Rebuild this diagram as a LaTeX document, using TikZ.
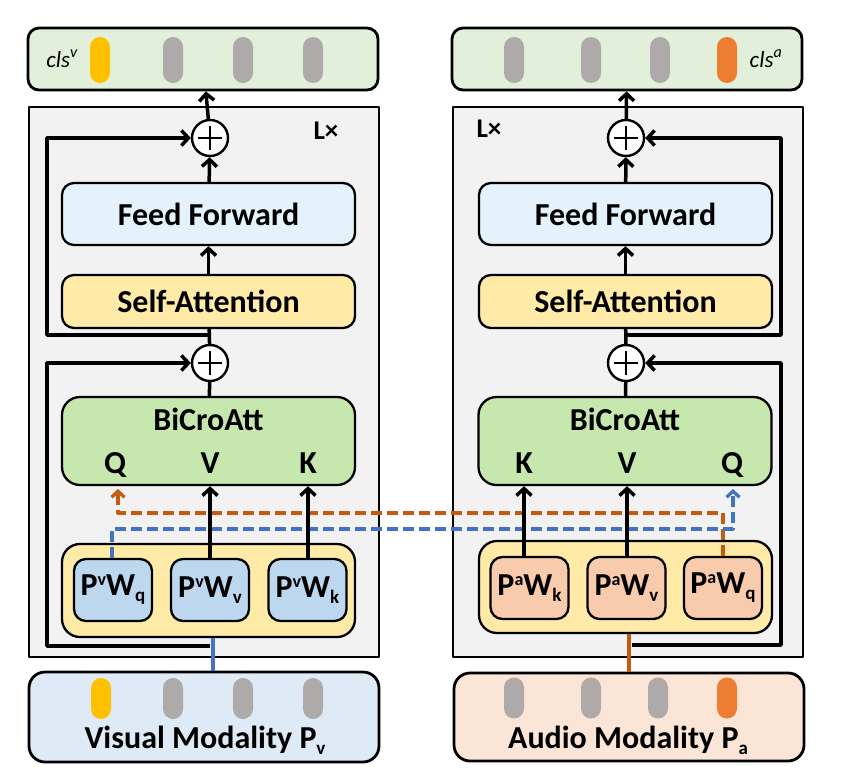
\documentclass[tikz,border=0pt]{standalone}
\usepackage{fontspec}
\setmainfont{Carlito}
\usetikzlibrary{arrows.meta,positioning}

\definecolor{clsgreen}{RGB}{226,239,218}
\definecolor{layergray}{RGB}{242,242,242}
\definecolor{ffblue}{RGB}{227,242,251}
\definecolor{attyellow}{RGB}{255,234,167}
\definecolor{bcagreen}{RGB}{198,231,174}
\definecolor{projblue}{RGB}{189,215,238}
\definecolor{projorange}{RGB}{248,203,173}
\definecolor{visblue}{RGB}{222,235,247}
\definecolor{audorange}{RGB}{251,229,214}
\definecolor{tokyellow}{RGB}{255,192,0}
\definecolor{tokgray}{RGB}{174,170,170}
\definecolor{tokorange}{RGB}{237,125,49}
\definecolor{lineblue}{RGB}{68,114,196}
\definecolor{lineorange}{RGB}{197,90,17}

\newcommand{\supmark}[1]{\raisebox{10pt}{\fontsize{18}{18}\selectfont #1}}
\newcommand{\submark}[1]{\raisebox{-6pt}{\fontsize{19}{19}\selectfont #1}}

\begin{document}
\begin{tikzpicture}[x=1pt, y=-1pt, >={Straight Barb[length=7pt,width=15pt]}, line join=round,
		font=\fontsize{32}{36}\selectfont\bfseries,
		outbox/.style={draw, line width=2.8pt, rounded corners=11pt, minimum width=350pt, inner sep=0pt},
		layerbox/.style={draw, line width=2.8pt, fill=layergray, minimum width=350pt, minimum height=550pt, inner sep=0pt},
		blockbox/.style={draw, line width=2.3pt, rounded corners=12pt, minimum width=293pt, inner sep=0pt},
		projbox/.style={draw, line width=2.3pt, rounded corners=12pt, minimum width=78pt, minimum height=62pt, inner sep=0pt},
		addop/.style={draw, circle, line width=2.4pt, fill=white, minimum size=36pt, inner sep=0pt,
			path picture={\draw[line width=2.8pt] ([xshift=-12pt]path picture bounding box.center) -- ([xshift=12pt]path picture bounding box.center)
				([yshift=-12pt]path picture bounding box.center) -- ([yshift=12pt]path picture bounding box.center);}},
		tok/.style={rounded corners=10pt, minimum width=20pt, inner sep=0pt},
		flow/.style={->, line width=3.5pt},
		rail/.style={line width=3.5pt},
		lxmark/.style={font=\fontsize{27}{30}\selectfont\bfseries, anchor=base, inner sep=0pt},
		querydash/.style={-{Straight Barb[length=6pt,width=13pt]}, line width=3.3pt, dash pattern=on 11pt off 5pt}]
	\useasboundingbox (0,0) rectangle (845,774);
	
	% visual branch
	\node[layerbox] (layv) at (204,382) {};
	\node[lxmark] (lv) at (326,139) {L×};
	\node[outbox, fill=clsgreen, minimum height=62pt] (clsv) at (203,59) {};
	\node[font=\fontsize{23}{25}\selectfont\itshape, anchor=base] (clsvtxt) at (62,67) {cls\textsuperscript{v}};
	\node[tok, fill=tokyellow, minimum height=46pt] (tv0) at (100,60) {};
	\foreach \i/\x in {1/173,2/243,3/313} { \node[tok, fill=tokgray, minimum height=46pt] (tv\i) at (\x,60) {}; }
	
	\node[addop] (addTv) at (210,138) {};
	\node[blockbox, fill=ffblue, minimum height=62pt] (ffv) at (208.5,214) {Feed Forward};
	\node[blockbox, fill=attyellow, minimum height=53pt] (sav) at (208.5,301.5) {Self-Attention};
	\node[addop] (addLv) at (210,363) {};
	\node[blockbox, fill=bcagreen, minimum height=88pt, rounded corners=18pt] (bcav) at (208.5,441) {};
	\node[anchor=base] (bcavtxt) at (208.5,430) {BiCroAtt};
	\node[anchor=base] (qv) at (115,473) {Q};
	\node[anchor=base] (vv) at (210,473) {V};
	\node[anchor=base] (kv) at (308,473) {K};
	\node[blockbox, fill=attyellow, minimum height=93pt, rounded corners=18pt] (projv) at (208.5,590.5) {};
	\node[projbox, fill=projblue] (pvq) at (113,590) {P\supmark{v}W\submark{q}};
	\node[projbox, fill=projblue] (pvv) at (210,590) {P\supmark{v}W\submark{v}};
	\node[projbox, fill=projblue] (pvk) at (307.5,590) {P\supmark{v}W\submark{k}};
	
	\node[outbox, fill=visblue, minimum height=90pt, rounded corners=16pt] (visv) at (204,717) {};
	\node[anchor=base] (visvtxt) at (205,748) {Visual Modality P\submark{v}};
	\node[tok, fill=tokyellow, minimum height=41pt] (bv0) at (101,698.5) {};
	\foreach \i/\x in {1/173,2/243,3/313} { \node[tok, fill=tokgray, minimum height=41pt] (bv\i) at (\x,698.5) {}; }
	
	% audio branch
	\node[layerbox] (laya) at (628,382) {};
	\node[lxmark] (la) at (489,137) {L×};
	\node[outbox, fill=clsgreen, minimum height=62pt] (clsa) at (627,59) {};
	\node[font=\fontsize{23}{25}\selectfont\itshape, anchor=base] (clsatxt) at (766,67) {cls\textsuperscript{a}};
	\foreach \i/\x in {1/514,2/591,3/660} { \node[tok, fill=tokgray, minimum height=46pt] (ta\i) at (\x,60) {}; }
	\node[tok, fill=tokorange, minimum height=46pt] (ta0) at (727,60) {};
	
	\node[addop] (addTa) at (626,138) {};
	\node[blockbox, fill=ffblue, minimum height=62pt] (ffa) at (625.5,214) {Feed Forward};
	\node[blockbox, fill=attyellow, minimum height=53pt] (saa) at (625.5,301.5) {Self-Attention};
	\node[addop] (addLa) at (626,363) {};
	\node[blockbox, fill=bcagreen, minimum height=88pt, rounded corners=18pt] (bcaa) at (625,441) {};
	\node[anchor=base] (bcaatxt) at (625,430) {BiCroAtt};
	\node[anchor=base] (ka) at (524,473) {K};
	\node[anchor=base] (va) at (627,473) {V};
	\node[anchor=base] (qa) at (732,473) {Q};
	\node[blockbox, fill=attyellow, minimum height=92pt, rounded corners=18pt] (proja) at (625.5,587) {};
	\node[projbox, fill=projorange] (pak) at (529.5,588) {P\supmark{a}W\submark{k}};
	\node[projbox, fill=projorange] (pav) at (626.5,588) {P\supmark{a}W\submark{v}};
	\node[projbox, fill=projorange] (paq) at (723,588) {P\supmark{a}W\submark{q}};
	
	\node[outbox, fill=audorange, minimum height=88pt, rounded corners=16pt] (auda) at (629,717) {};
	\node[anchor=base] (audatxt) at (628,748) {Audio Modality P\submark{a}};
	\foreach \i/\x in {1/514,2/591,3/658} { \node[tok, fill=tokgray, minimum height=41pt] (ba\i) at (\x,698) {}; }
	\node[tok, fill=tokorange, minimum height=41pt] (ba0) at (727,698) {};
	
	% residual rails
	\coordinate (brTv) at (210,335);
	\coordinate (brLv) at (210,646);
	\coordinate (railv) at (47,0);
	\coordinate (brTa) at (626,335);
	\coordinate (brLa) at (632,645);
	\coordinate (raila) at (781,0);
	\draw[flow] (brTv) -| (railv |- addTv) -- (addTv);
	\draw[flow] (brLv) -| (railv |- addLv) -- (addLv);
	\draw[flow] (brTa) -| (raila |- addTa) -- (addTa);
	\draw[flow] (brLa) -| (raila |- addLa) -- (addLa);
	
	% cross-modal queries
	\coordinate (qvin) at (118,489);
	\coordinate (qain) at (733,489);
	\draw[querydash, lineorange] (paq.north) -- ++(0,-43) -| (qvin);
	\draw[querydash, lineblue] ([xshift=-1pt]pvq.north) -- ++(0,-29) -| (qain);
	
	% main flow
	\foreach \s in {v,a} {
		\draw[flow] (sa\s) -- (ff\s);
		\draw[flow] (ff\s) -- (addT\s);
		\draw[flow] (addT\s) -- (cls\s);
		\draw[rail] (bca\s) -- (addL\s);
		\draw[rail] (addL\s) -- (sa\s);
	}
	\draw[flow] (pvv.north -| vv) -- (vv |- bcav.south);
	\draw[flow] (pvk.north -| kv) -- (kv |- bcav.south);
	\draw[flow] (pak.north -| ka) -- (ka |- bcaa.south);
	\draw[flow] (pav.north -| va) -- (va |- bcaa.south);
	
	% modality inputs
	\draw[line width=3.5pt, lineblue] ([xshift=4.5pt]projv.south) -- ([xshift=4.5pt]projv.south |- visv.north);
	\draw[line width=3.5pt, lineorange] (proja.south -| auda.north) -- (auda.north);
\end{tikzpicture}
\end{document}
